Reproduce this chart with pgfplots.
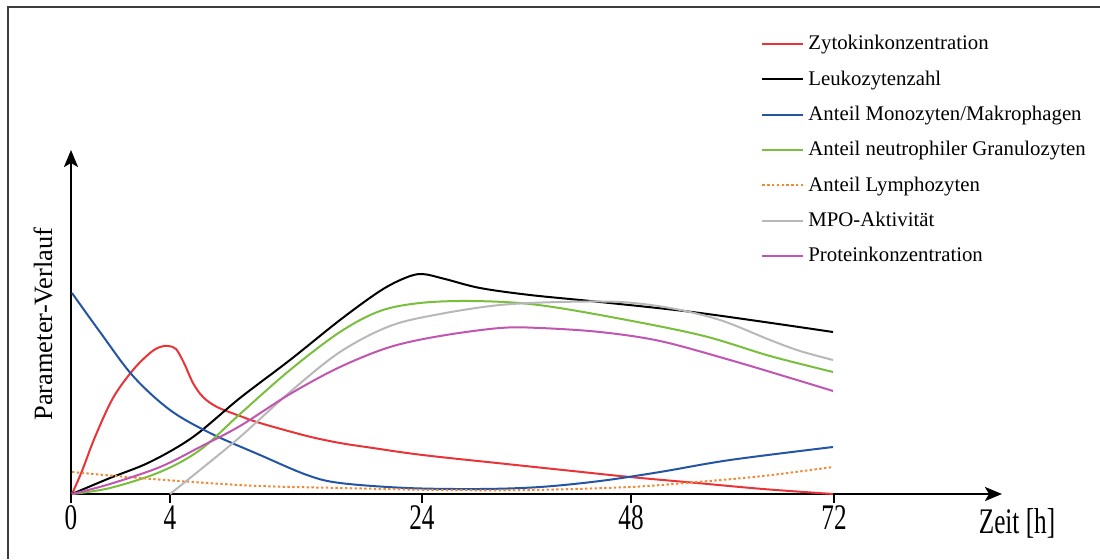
\documentclass[border=0pt]{standalone}
\usepackage{fontspec}
\setmainfont{Liberation Serif}
\newfontfamily\condfont[FakeStretch=0.7]{Liberation Serif}
\usepackage{pgfplots}
\pgfplotsset{compat=1.18}
\usepackage{pgfplotstable}
\usetikzlibrary{arrows.meta}

\definecolor{cred}{RGB}{232,52,56}
\definecolor{cblue}{RGB}{36,84,164}
\definecolor{cgreen}{RGB}{122,190,62}
\definecolor{corange}{RGB}{240,138,52}
\definecolor{cgray}{RGB}{184,184,184}
\definecolor{cmag}{RGB}{192,86,176}
\definecolor{cframe}{RGB}{60,60,60}

% pixel coordinates of the reference: px = horizontal position, py = vertical (from top)
\pgfplotstableread{
px py
72 494
82 471
95 437
113 398
133 370
150 353
160 347
168 346
176 349
184 363
193 383
203 397
217 407
240 416
260 423
307 436
340 443
373 448
407 453
440 457
497 463
563 470
630 477
697 483
763 489
833 494
}\tred

\pgfplotstableread{
px py
72 494
110 478
150 462
193 437
240 398
290 360
340 320
380 291
405 278
422 274
445 279
480 288
530 295
600 302
700 313
833 332
}\tblack

\pgfplotstableread{
px py
72 293
100 332
133 376
170 410
210 433
260 455
307 475
340 483
407 488
480 489
540 487
600 481
660 472
730 460
833 447
}\tblue

\pgfplotstableread{
px py
72 494
110 488
160 472
200 450
240 414
290 370
340 332
380 311
420 303
470 301
530 304
600 315
700 335
770 356
833 372
}\tgreen

\pgfplotstableread{
px py
72 472
127 477
193 482
260 486
340 488
440 490
530 490
630 487
697 482
763 476
833 467
}\torange

\pgfplotstableread{
px py
170 494
200 470
240 437
290 392
340 352
390 326
440 314
500 305
560 302
620 302
670 308
720 320
770 340
800 351
833 360
}\tgray

\pgfplotstableread{
px py
72 494
110 484
160 467
200 447
240 426
290 394
340 367
390 347
440 336
500 328
540 328
600 332
660 341
730 360
797 380
833 391
}\tmag

\begin{document}
\begin{tikzpicture}
\begin{axis}[
  x=0.5pt, y=0.5pt,
  xmin=71, xmax=1002, ymin=0, ymax=344,
  axis lines=left,
  axis line style={line width=1.2pt, -{Stealth[length=8.5pt,width=7pt,inset=2pt]}},
  clip=false,
  xtick={71,170,422,631,834},
  xticklabels={0,4,24,48,72},
  ytick=\empty,
  tick align=outside,
  major tick length=4.5pt,
  tick style={line width=1.2pt, black},
  xticklabel style={font=\condfont\fontsize{18}{18}\selectfont, inner sep=1pt},
  /pgf/number format/assume math mode=true,
  legend cell align=left,
  legend image code/.code={\draw[#1, line width=0.8pt] (0pt,0pt) -- (18.5pt,0pt); \path (0pt,0pt) -- (20.5pt,0pt);},
  legend style={
    at={(axis cs:755,467)}, anchor=north west,
    draw=none, fill=none,
    font=\fontsize{10.4}{12}\selectfont,
    row sep=4.95pt,
    nodes={inner sep=2pt},
  },
  every axis plot/.append style={line width=1pt, smooth, tension=0.55},
]
\addplot[cred] table[x=px, y expr=494-\thisrow{py}] {\tred};
\addlegendentry{Zytokinkonzentration}
\addplot[black] table[x=px, y expr=494-\thisrow{py}] {\tblack};
\addlegendentry{Leukozytenzahl}
\addplot[cblue] table[x=px, y expr=494-\thisrow{py}] {\tblue};
\addlegendentry{Anteil Monozyten/Makrophagen}
\addplot[cgreen] table[x=px, y expr=494-\thisrow{py}] {\tgreen};
\addlegendentry{Anteil neutrophiler Granulozyten}
\addplot[corange, dash pattern=on 1.2pt off 1.2pt] table[x=px, y expr=494-\thisrow{py}] {\torange};
\addlegendentry{Anteil Lymphozyten}
\addplot[cgray] table[x=px, y expr=494-\thisrow{py}] {\tgray};
\addlegendentry{MPO-Aktivität}
\addplot[cmag] table[x=px, y expr=494-\thisrow{py}] {\tmag};
\addlegendentry{Proteinkonzentration}

\node[rotate=90, font=\fontsize{13.2}{13}\selectfont] at (axis cs:43,170) {Parameter-Verlauf};
\node[font=\condfont\fontsize{18}{18}\selectfont] at (axis cs:1017,-29) {Zeit [h]};
\draw[line width=1pt, cframe] (axis cs:8,-65) -- (axis cs:8,487) -- (axis cs:1100,487);
\coordinate (BL) at (axis cs:0,-65);
\coordinate (TR) at (axis cs:1100,494);
\end{axis}
\pgfresetboundingbox
\useasboundingbox (BL) rectangle (TR);
\end{tikzpicture}
\end{document}
